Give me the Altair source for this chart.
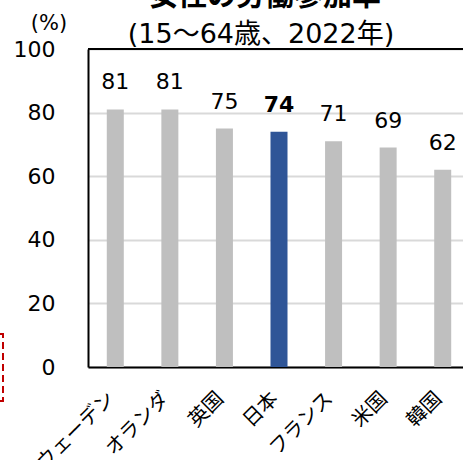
import altair as alt
import pandas as pd

countries = ["スウェーデン", "オランダ", "英国", "日本", "フランス", "米国", "韓国"]
rates = [81, 81, 75, 74, 71, 69, 62]
highlight_country = "日本"
y_ticks = [0, 20, 40, 60, 80, 100]
title_text = "女性の労働参加率"
subtitle_text = "(15〜64歳、2022年)"
unit_text = "(%)"

df = pd.DataFrame({"country": countries, "rate": rates})
FONT = "DejaVu Sans, Noto Sans CJK JP"
W, H = 375, 318

x_enc = alt.X(
    "country:N", sort=countries,
    scale=alt.Scale(range=[0, 382], paddingInner=0, paddingOuter=0),
    axis=alt.Axis(title=None, labelAngle=-45, labelAlign="right", labelBaseline="middle",
                  labelFontSize=20, labelFont=FONT, labelColor="black", labelPadding=28,
                  labelOffset=-4, ticks=False, domainColor="black", domainWidth=2),
)
y_enc = alt.Y(
    "rate:Q", scale=alt.Scale(domain=[0, 100], nice=False),
    axis=alt.Axis(values=y_ticks, title=None, ticks=False, labelPadding=33,
                  labelFontSize=22, labelFont=FONT, labelColor="black",
                  grid=True, gridColor="#D9D9D9", gridWidth=2,
                  domainColor="black", domainWidth=2),
)

base = alt.Chart(df)
bars = base.mark_bar(size=17).encode(
    x=x_enc, y=y_enc,
    color=alt.condition(alt.datum.country == highlight_country,
                        alt.value("#2F5597"), alt.value("#BFBFBF")),
)
lab_norm = base.transform_filter(alt.datum.country != highlight_country).mark_text(
    dy=-20, baseline="alphabetic", fontSize=22, font=FONT, color="black"
).encode(x=alt.X("country:N", sort=countries), y="rate:Q", text="rate:Q")
lab_bold = base.transform_filter(alt.datum.country == highlight_country).mark_text(
    dy=-20, baseline="alphabetic", fontSize=22, font=FONT, color="black", fontWeight="bold"
).encode(x=alt.X("country:N", sort=countries), y="rate:Q", text="rate:Q")

one = alt.Chart(pd.DataFrame({"a": [0]}))
top_rule = one.mark_rule(color="black", strokeWidth=2).encode(
    x=alt.value(0), x2=alt.value(W), y=alt.value(0))
title = one.mark_text(text=title_text, fontSize=29, fontWeight="bold", font=FONT,
                      baseline="alphabetic", align="center", color="black").encode(
    x=alt.value(177), y=alt.value(-43))
subtitle = one.mark_text(text=subtitle_text, fontSize=27, font=FONT,
                         baseline="alphabetic", align="center", color="black").encode(
    x=alt.value(173), y=alt.value(-6))
unit = one.mark_text(text=unit_text, fontSize=21, font=FONT,
                     baseline="alphabetic", align="center", color="black").encode(
    x=alt.value(-39), y=alt.value(-19))
redbox = one.mark_rect(fillOpacity=0, stroke="#C00000", strokeDash=[7, 4], strokeWidth=2).encode(
    x=alt.value(-110), x2=alt.value(-85), y=alt.value(285), y2=alt.value(352))

chart = alt.layer(bars, lab_norm, lab_bold, top_rule, title, subtitle, unit, redbox).properties(
    width=W, height=H,
    autosize=alt.AutoSizeParams(type="none"),
    padding={"left": 88, "top": 49, "right": 0, "bottom": 93},
    background="white",
).configure_view(stroke=None)

chart.save("out.html", embed_options={"renderer": "svg", "actions": False})
